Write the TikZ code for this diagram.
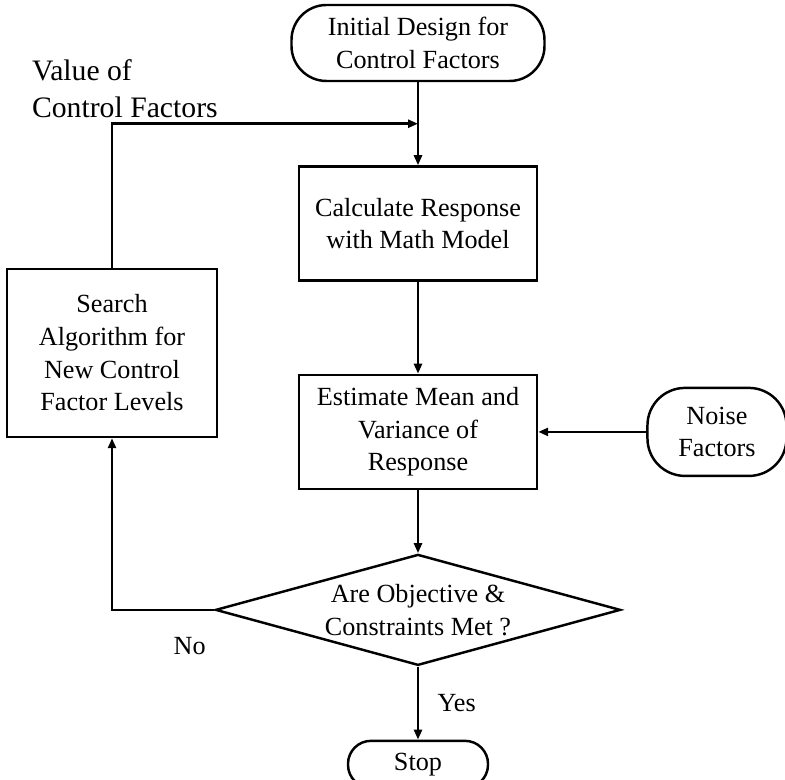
\documentclass[tikz,border=0pt]{standalone}
\usepackage{fontspec}
\setmainfont{Liberation Serif}
\usepackage{tikz}
\usetikzlibrary{shapes.geometric, arrows.meta, positioning, calc}

\begin{document}
\begin{tikzpicture}[
    line width=1.4pt,
    font=\fontsize{14.9}{18.6}\selectfont,
    process/.style={rectangle, draw, minimum width=4.76cm, minimum height=2.28cm, align=center},
    terminal/.style={rectangle, draw, rounded corners=0.6cm, align=center},
    decision/.style={diamond, draw, aspect=3.65, inner sep=0pt, minimum width=8.1cm, minimum height=2.22cm, align=center},
    arrow/.style={-{Triangle[length=2mm,width=1.6mm]}},
]
    \useasboundingbox (0,0) rectangle (15.7,-15.6);

    \node[terminal, rounded corners=0.7cm, minimum width=5.06cm, minimum height=1.52cm] (init) at (8.36,-0.86) {Initial Design for\\Control Factors};
    \node[process, below=1.66cm of init] (calc) {Calculate Response\\with Math Model};
    \node[process, below=1.84cm of calc] (est) {Estimate Mean and\\Variance of\\Response};
    \node[terminal, rounded corners=0.75cm, minimum width=2.78cm, minimum height=1.76cm, right=2.16cm of est] (noise) {Noise\\Factors};
    \node[decision, below=1.26cm of est] (check) {Are Objective \&\\Constraints Met ?};
    \node[terminal, rounded corners=0.46cm, minimum width=2.8cm, minimum height=0.94cm, below=1.46cm of check] (stop) {Stop};
    \node[rectangle, draw, minimum width=4.2cm, minimum height=3.36cm, align=center] (search) at (2.24,-7.06) {Search\\Algorithm for\\New Control\\Factor Levels};
    \node[anchor=west, align=left, font=\fontsize{16.9}{21}\selectfont] (value) at (0.5,-1.77) {Value of\\Control Factors};

    \coordinate (join) at ($(init.south)!0.5!(calc.north)$);

    \draw[arrow] (init) -- (calc);
    \draw[arrow] (calc) -- (est);
    \draw[arrow] (noise) -- (est);
    \draw[arrow] (est) -- (check);
    \draw[arrow] (check) -- node[right=0.25cm, pos=0.5] {Yes} (stop);
    \draw[arrow] (check.west) -| node[below=0.4cm, pos=0.12] {No} (search.south);
    \draw[arrow] (search.north) |- (join);
\end{tikzpicture}
\end{document}
